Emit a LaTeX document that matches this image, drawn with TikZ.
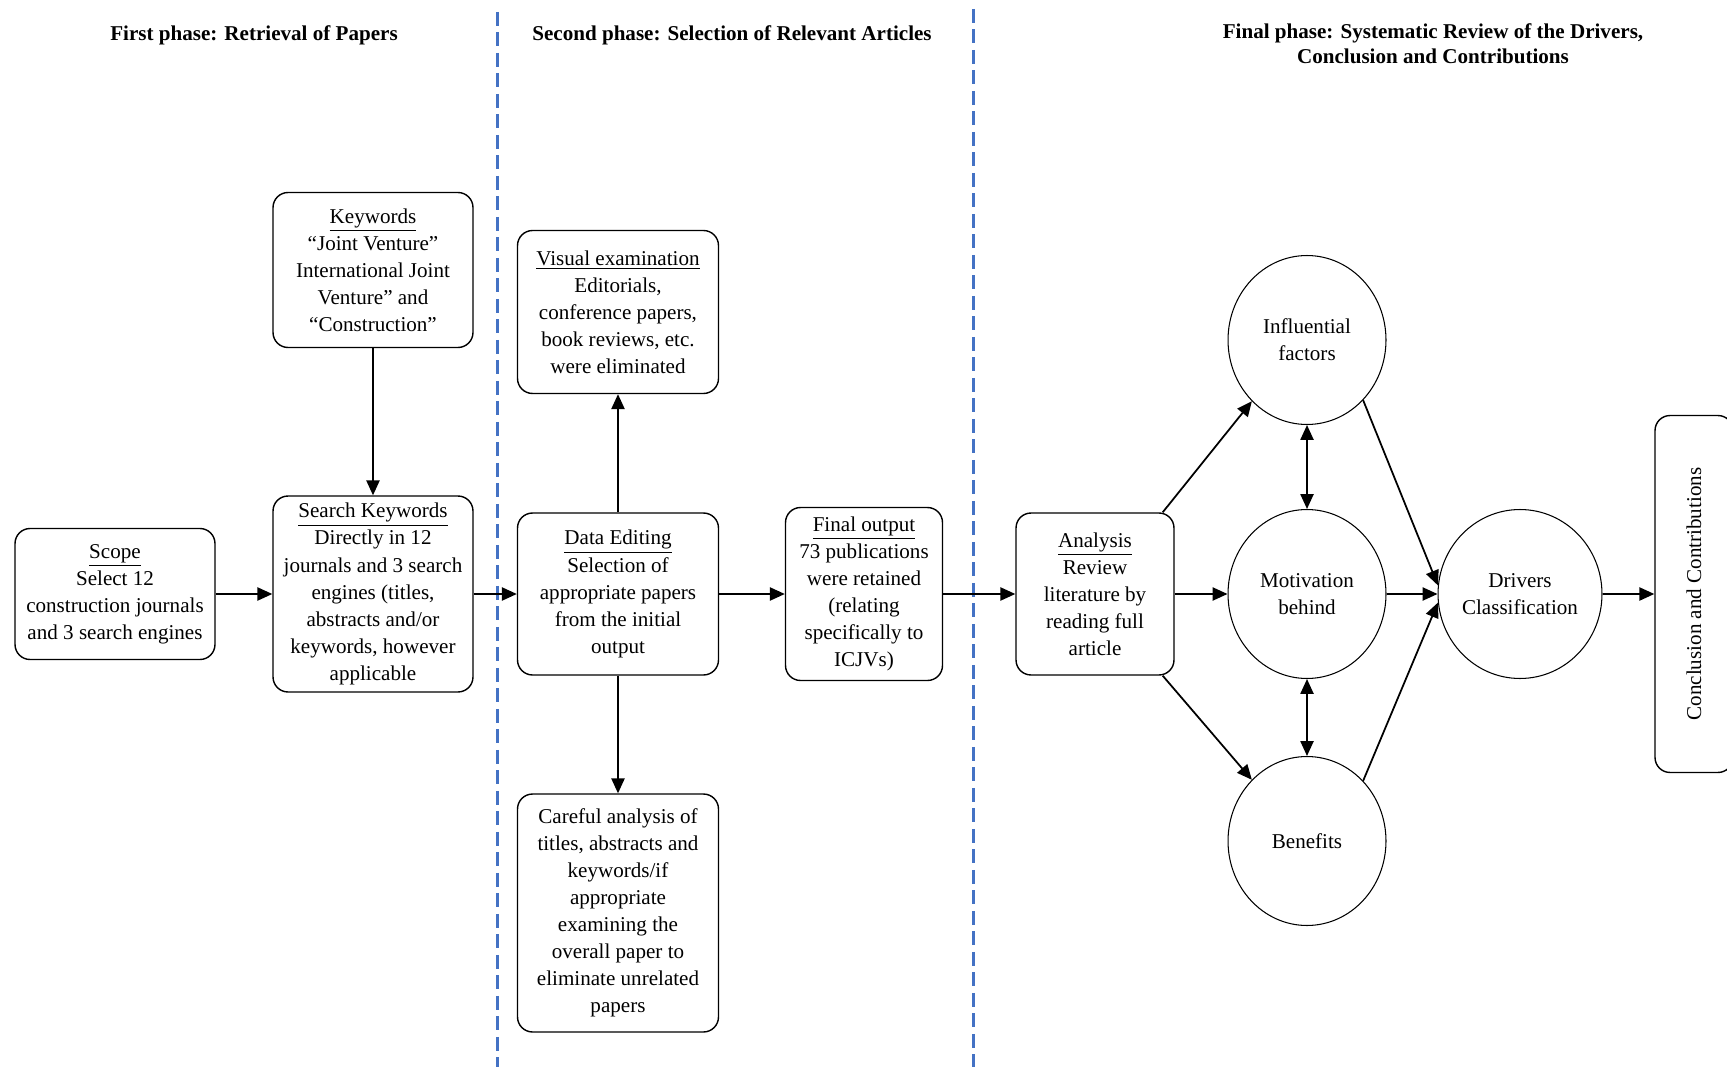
\documentclass[tikz,border=0pt]{standalone}
\usepackage{fontspec}
\setmainfont{Liberation Serif}
\usetikzlibrary{shapes.geometric,arrows.meta}
\definecolor{splitblue}{HTML}{4472C4}

\begin{document}
\begin{tikzpicture}[x=0.02cm, y=-0.02cm, >={Triangle[length=8.5pt,width=7.5pt]},
box/.style={draw, rounded corners=0.3cm, align=center, inner sep=0pt, line width=0.8pt, font=\fontsize{12}{15.4}\selectfont},
bubble/.style={draw, ellipse, align=center, inner sep=0pt, minimum width=3.16cm, minimum height=3.38cm, line width=0.6pt, font=\fontsize{12}{15.4}\selectfont},
phase/.style={align=center, inner sep=0pt, font=\fontsize{12}{14.4}\selectfont\bfseries},
flow/.style={->, line width=1pt},
twoway/.style={<->, line width=1pt},
split/.style={splitblue, line width=1.7pt, dash pattern=on 0.28cm off 0.13cm},
]
\useasboundingbox (0,0) rectangle (1727,1067); %%%%%%%% SIZE OF THE PICTURE

%%%%%%%%%%%%%%%%%%%%%%%% PHASES %%%%%%%%%%%%%%%%%%%%%%%%%%%
\node[phase] (FirstPhase) at (254,35) {First phase: Retrieval of Papers};
\node[phase] (SecondPhase) at (732,35) {Second phase: Selection of Relevant Articles};
\node[phase] (FinalPhase) at (1433,44) {Final phase: Systematic Review of the Drivers,\\ Conclusion and Contributions};

\coordinate (SplitATop) at (497,12);
\coordinate (SplitAEnd) at (497,1067);
\coordinate (SplitBTop) at (973,9);
\coordinate (SplitBEnd) at (973,1067);
\draw[split] (SplitATop) -- (SplitAEnd);
\draw[split] (SplitBTop) -- (SplitBEnd);

%%%%%%%%%%%%%%%%%%%%%%%% FIRST PHASE %%%%%%%%%%%%%%%%%%%%%%%%%%%
\node[box, minimum width=4cm, minimum height=2.62cm] (Scope) at (115,594) {\underline{Scope}\\ Select 12\\ construction journals\\ and 3 search engines};
\node[box, minimum width=4cm, minimum height=3.1cm] (Keywords) at (373,270) {\underline{Keywords}\\ ``Joint Venture''\\ International Joint\\ Venture'' and\\ ``Construction''};
\node[box, minimum width=4cm, minimum height=3.92cm] (Search) at (373,594) {\underline{Search Keywords}\\ Directly in 12\\ journals and 3 search\\ engines (titles,\\ abstracts and/or\\ keywords, however\\ applicable};

%%%%%%%%%%%%%%%%%%%%%%%% SECOND PHASE %%%%%%%%%%%%%%%%%%%%%%%%%%%
\node[box, minimum width=4.02cm, minimum height=3.26cm] (Visual) at (618,312) {\underline{Visual examination}\\ Editorials,\\ conference papers,\\ book reviews, etc.\\ were eliminated};
\node[box, minimum width=4.02cm, minimum height=3.24cm] (Editing) at (618,594) {\underline{Data Editing}\\ Selection of\\ appropriate papers\\ from the initial\\ output};
\node[box, minimum width=4.02cm, minimum height=4.76cm] (Careful) at (618,913) {Careful analysis of\\ titles, abstracts and\\ keywords/if\\ appropriate\\ examining the\\ overall paper to\\ eliminate unrelated\\ papers};
\node[box, minimum width=3.14cm, minimum height=3.46cm] (Final) at (864,594) {\underline{Final output}\\ 73 publications\\ were retained\\ (relating\\ specifically to\\ ICJVs)};

%%%%%%%%%%%%%%%%%%%%%%%% FINAL PHASE %%%%%%%%%%%%%%%%%%%%%%%%%%%
\node[box, minimum width=3.16cm, minimum height=3.24cm] (Analysis) at (1095,594) {\underline{Analysis}\\ Review\\ literature by\\ reading full\\ article};
\node[bubble] (Influential) at (1307,340) {Influential\\ factors};
\node[bubble] (Motivation) at (1307,594) {Motivation\\ behind};
\node[bubble] (Benefits) at (1307,841) {Benefits};
\node[bubble] (Drivers) at (1520,594) {Drivers\\ Classification};
\node[box, rotate=90, minimum width=7.14cm, minimum height=1.56cm] (Conclusion) at (1694,594) {Conclusion and Contributions};

%%%%%%%%%%%%%%%%%%%%%%%% ARROWS %%%%%%%%%%%%%%%%%%%%%%%%%%%
\draw[flow] (Scope.east) -- (Search.west);
\draw[flow] (Keywords.south) -- (Search.north);
\draw[flow] (Search.east) -- (Editing.west);
\draw[flow] (Editing.north) -- (Visual.south);
\draw[flow] (Editing.south) -- (Careful.north);
\draw[flow] (Editing.east) -- (Final.west);
\draw[flow] (Final.east) -- (Analysis.west);
\draw[flow] ([xshift=-0.24cm]Analysis.north east) -- (Influential.228);
\draw[flow] (Analysis.east) -- (Motivation.west);
\draw[flow] ([xshift=-0.24cm]Analysis.south east) -- (Benefits.132);
\draw[twoway] (Influential.south) -- (Motivation.north);
\draw[twoway] (Motivation.south) -- (Benefits.north);
\draw[flow] (Influential.-47) -- (Drivers.174);
\draw[flow] (Motivation.east) -- (Drivers.west);
\draw[flow] (Benefits.47) -- (Drivers.186);
\draw[flow] (Drivers.east) -- (Conclusion.north);
\end{tikzpicture}
\end{document}
